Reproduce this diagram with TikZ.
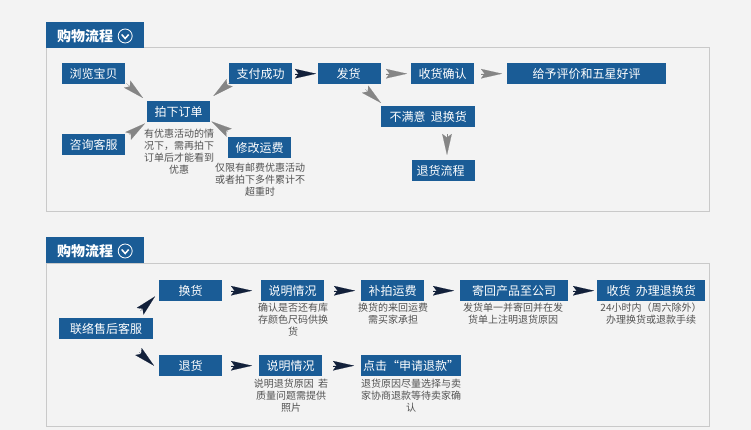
\documentclass[tikz,border=0pt]{standalone}
\usepackage{fontspec}
\setmainfont{Noto Sans CJK SC}
\usepackage{xcolor}
\usetikzlibrary{arrows.meta,calc,positioning}
\definecolor{boxblue}{HTML}{1A5C96}
\definecolor{panelgray}{HTML}{F3F3F3}
\definecolor{panelline}{HTML}{C9C9C9}
\definecolor{dartgray}{HTML}{858585}
\definecolor{dartdark}{HTML}{12203A}
\tikzset{
  flowbox/.style={fill=boxblue,text=white,inner sep=0pt,anchor=north west,minimum width=63pt,minimum height=21pt,font=\fontsize{12}{14}\selectfont},
  flownote/.style={text=black!68,inner sep=0pt,align=center,font=\fontsize{10}{12}\selectfont},
  headbox/.style={fill=boxblue,text=white,inner sep=0pt,anchor=north west,minimum width=98pt,minimum height=26pt,font=\fontsize{14}{16}\selectfont\bfseries},
  dartline/.style={line width=0.1pt,-{Stealth[length=21pt,width=9.5pt,inset=3.5pt]}},
  graydart/.style={dartline,draw=dartgray,fill=dartgray},
  darkdart/.style={dartline,draw=dartdark,fill=dartdark},
  gaps/.style 2 args={shorten <=#1pt,shorten >=#2pt}
}
\begin{document}
\begin{tikzpicture}[x=1pt,y=-1pt]
  \useasboundingbox[fill=panelgray] (0,0) rectangle (751,430);
  \foreach \n/\y in {first/22,second/237}{
    \draw[panelline,line width=1pt] (46.5,\y+26) rectangle (709,\y+189.5);
    \node[headbox] (head\n) at (46,\y) {};
    \node[text=white,inner sep=0pt,font=\fontsize{14}{16}\selectfont\bfseries] (title\n) at (85,\y+14) {购物流程};
    \draw[white,line width=0.8pt] ($(title\n.east)+(12,0)$) circle (7);
    \draw[white,line width=1.5pt] ($(title\n.east)+(8.5,-1.5)$) -- ++(3.5,4) -- ++(3.5,-4);
  }

  \node[flowbox] (browse) at (62,63) {浏览宝贝};
  \node[flowbox] (consult) at (62,134) {咨询客服};
  \node[flowbox] (order) at (147,101) {拍下订单};
  \node[flowbox] (pay) at (229,63) {支付成功};
  \node[flowbox] (fee) at (228,137) {修改运费};
  \node[flowbox] (ship) at (318,63) {发货\hspace*{2pt}};
  \node[flowbox] (confirm) at (411,63) {收货确认};
  \node[flowbox,minimum width=159pt] (rate) at (507,63) {给予评价和五星好评};
  \node[flowbox,minimum width=94pt] (unhappy) at (381,106) {不满意\ \ 退换货};
  \node[flowbox] (returnflow) at (412,160) {退货流程\hspace*{6pt}};
  \node[flownote] (ordernote) at (179,152) {有优惠活动的情\\况下，需再拍下\\订单后才能看到\\优惠};
  \node[flownote] (feenote) at (260,180) {仅限有邮费优惠活动\\或者拍下多件累计不\\超重时};

  \draw[graydart] ($(browse.south east)+(1,-1)$) -- ($(order.north west)+(-4,-3)$);
  \draw[graydart] ($(consult.north east)+(4,1)$) -- ($(order.south west)+(-2,1)$);
  \draw[graydart] ($(pay.south west)+(1,-2)$) -- ($(order.north east)+(3,-5)$);
  \draw[graydart] ($(fee.north west)+(0,-5)$) -- ($(order.south east)+(1,-1)$);
  \draw[darkdart,gaps={3}{2}] (pay.east) -- (ship.west);
  \draw[graydart,gaps={5}{4}] (ship.east) -- (confirm.west);
  \draw[graydart,gaps={7}{5}] (confirm.east) -- (rate.west);
  \draw[graydart] ($(ship.south east)+(-16,5)$) -- ($(unhappy.north west)+(0,-3)$);
  \draw[graydart] ($(unhappy.south west)+(66,7)$) -- ($(returnflow.north west)+(35,-5)$);

  \node[flowbox,minimum width=94pt] (contact) at (59,318) {联络售后客服};
  \node[flowbox] (exchange) at (159,280) {换货};
  \node[flowbox] (refund) at (159,355) {退货};
  \node[flowbox] (explainA) at (261,280) {说明情况};
  \node[flowbox] (explainB) at (259,355) {说明情况};
  \node[flowbox] (postage) at (361,280) {补拍运费};
  \node[flowbox,minimum width=100pt] (apply) at (361,355) {点击“申请退款”};
  \node[flowbox,minimum width=108pt] (sendback) at (460,280) {寄回产品至公司};
  \node[flowbox,minimum width=108pt] (receive) at (597,280) {收货\ \ 办理退换货};
  \node[flownote] (explainAnote) at (293,320) {确认是否还有库\\存颜色尺码供换\\货};
  \node[flownote] (explainBnote) at (291,396) {说明退货原因\ \ 若\\质量问题需提供\\照片};
  \node[flownote] (postagenote) at (393,314) {换货的来回运费\\需买家承担};
  \node[flownote] (sendbacknote) at (513,314) {发货单一并寄回并在发\\货单上注明退货原因};
  \node[flownote] (receivenote) at (651,314) {24小时内（周六除外）\\办理换货或退款手续};
  \node[flownote] (applynote) at (411,396) {退货原因尽量选择与卖\\家协商退款等待卖家确\\认};

  \draw[darkdart] ($(contact.north east)+(-13,-7)$) -- ($(exchange.south west)+(-4,-5)$);
  \draw[darkdart] ($(contact.south east)+(-14,13)$) -- ($(refund.west)+(-5,0)$);
  \draw[darkdart,gaps={9}{9}] (exchange.east) -- (explainA.west);
  \draw[darkdart,gaps={10}{6}] (explainA.east) -- (postage.west);
  \draw[darkdart,gaps={9}{6}] (postage.east) -- (sendback.west);
  \draw[darkdart,gaps={5}{3}] (sendback.east) -- (receive.west);
  \draw[darkdart,gaps={9}{7}] (refund.east) -- (explainB.west);
  \draw[darkdart,gaps={11}{7}] (explainB.east) -- (apply.west);
\end{tikzpicture}
\end{document}
